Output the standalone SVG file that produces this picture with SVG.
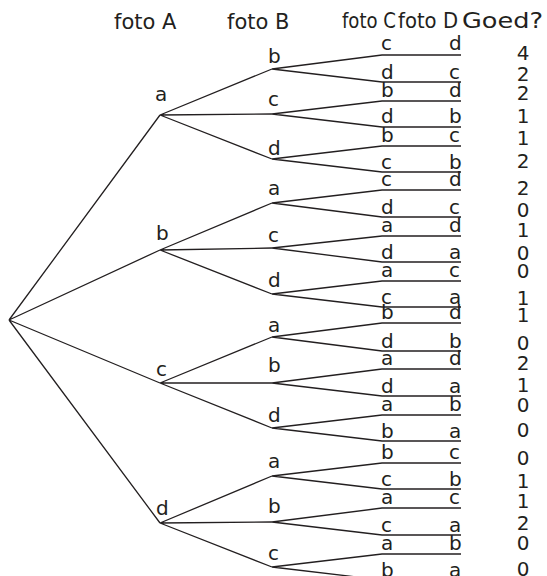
<svg xmlns="http://www.w3.org/2000/svg" width="547" height="576" viewBox="0 0 547 576">
<style>
text{font-family:"DejaVu Sans","Liberation Sans",sans-serif;font-size:20px;fill:#231f20}
.h{font-size:21px}
.n{text-anchor:middle}
.e{stroke:#231f20;stroke-width:1.3;fill:none}
</style>
<rect width="547" height="576" fill="#fff"/>
<g id="headers">
<text class="h" x="114" y="29">foto A</text>
<text class="h" x="227" y="29">foto B</text>
<text class="h" x="342" y="28" textLength="54" lengthAdjust="spacingAndGlyphs">foto C</text>
<text class="h" x="398" y="28" textLength="60" lengthAdjust="spacingAndGlyphs">foto D</text>
<text class="h" x="462" y="28" textLength="81" lengthAdjust="spacingAndGlyphs">Goed?</text>
</g>
<g id="connectors" class="e">
<path d="M9,320L160,115M9,320L160,250M9,320L160,383M9,320L160,523"/>
<path d="M160,115L272,69M160,115L272,114M160,115L272,159"/>
<path d="M160,250L272,203M160,250L272,248M160,250L272,294"/>
<path d="M160,383L272,337M160,383L272,383M160,383L272,428"/>
<path d="M160,523L272,476M160,523L272,522M160,523L272,567"/>
<path d="M272,69L382,55H461M272,69L382,82H461"/>
<path d="M272,114L382,101H461M272,114L382,127H461"/>
<path d="M272,159L382,146H461M272,159L382,172H461"/>
<path d="M272,203L382,190H461M272,203L382,217H461"/>
<path d="M272,248L382,236H461M272,248L382,262H461"/>
<path d="M272,294L382,281H461M272,294L382,307H461"/>
<path d="M272,337L382,323H461M272,337L382,351H461"/>
<path d="M272,383L382,369H461M272,383L382,396H461"/>
<path d="M272,428L382,415H461M272,428L382,441H461"/>
<path d="M272,476L382,463H461M272,476L382,489H461"/>
<path d="M272,522L382,508H461M272,522L382,535H461"/>
<path d="M272,567L382,554H461M272,567L382,580H461"/>
</g>
<g id="level-A">
<text x="155" y="101">a</text>
<text x="156" y="240">b</text>
<text x="156" y="376">c</text>
<text x="156" y="515">d</text>
</g>
<g id="level-B">
<text x="268" y="63">b</text>
<text x="268" y="106">c</text>
<text x="268" y="155">d</text>
<text x="268" y="195">a</text>
<text x="268" y="242">c</text>
<text x="268" y="287">d</text>
<text x="268" y="332">a</text>
<text x="268" y="372">b</text>
<text x="268" y="422">d</text>
<text x="268" y="468">a</text>
<text x="268" y="513">b</text>
<text x="268" y="560">c</text>
</g>
<g id="level-C">
<text x="381" y="50">c</text>
<text x="381" y="79">d</text>
<text x="381" y="97">b</text>
<text x="381" y="123">d</text>
<text x="381" y="142">b</text>
<text x="381" y="169">c</text>
<text x="381" y="186">c</text>
<text x="381" y="214">d</text>
<text x="381" y="232">a</text>
<text x="381" y="259">d</text>
<text x="381" y="277">a</text>
<text x="381" y="304">c</text>
<text x="381" y="319">b</text>
<text x="381" y="348">d</text>
<text x="381" y="365">a</text>
<text x="381" y="393">d</text>
<text x="381" y="411">a</text>
<text x="381" y="438">b</text>
<text x="381" y="459">b</text>
<text x="381" y="486">c</text>
<text x="381" y="504">a</text>
<text x="381" y="532">c</text>
<text x="381" y="550">a</text>
<text x="381" y="577">b</text>
</g>
<g id="level-D">
<text x="449" y="50">d</text>
<text x="449" y="79">c</text>
<text x="449" y="97">d</text>
<text x="449" y="123">b</text>
<text x="449" y="142">c</text>
<text x="449" y="169">b</text>
<text x="449" y="186">d</text>
<text x="449" y="214">c</text>
<text x="449" y="232">d</text>
<text x="449" y="259">a</text>
<text x="449" y="277">c</text>
<text x="449" y="304">a</text>
<text x="449" y="319">d</text>
<text x="449" y="348">b</text>
<text x="449" y="365">d</text>
<text x="449" y="393">a</text>
<text x="449" y="411">b</text>
<text x="449" y="438">a</text>
<text x="449" y="459">c</text>
<text x="449" y="486">b</text>
<text x="449" y="504">c</text>
<text x="449" y="532">a</text>
<text x="449" y="550">b</text>
<text x="449" y="577">a</text>
</g>
<g id="goed" class="n">
<text x="523" y="60">4</text>
<text x="523" y="81">2</text>
<text x="523" y="100">2</text>
<text x="523" y="123">1</text>
<text x="523" y="145">1</text>
<text x="523" y="168">2</text>
<text x="523" y="195">2</text>
<text x="523" y="217">0</text>
<text x="523" y="237">1</text>
<text x="523" y="260">0</text>
<text x="523" y="278">0</text>
<text x="523" y="305">1</text>
<text x="523" y="322">1</text>
<text x="523" y="350">0</text>
<text x="523" y="370">2</text>
<text x="523" y="392">1</text>
<text x="523" y="412">0</text>
<text x="523" y="437">0</text>
<text x="523" y="465">0</text>
<text x="523" y="488">1</text>
<text x="523" y="508">1</text>
<text x="523" y="530">2</text>
<text x="523" y="550">0</text>
<text x="523" y="576">0</text>
</g>
</svg>
